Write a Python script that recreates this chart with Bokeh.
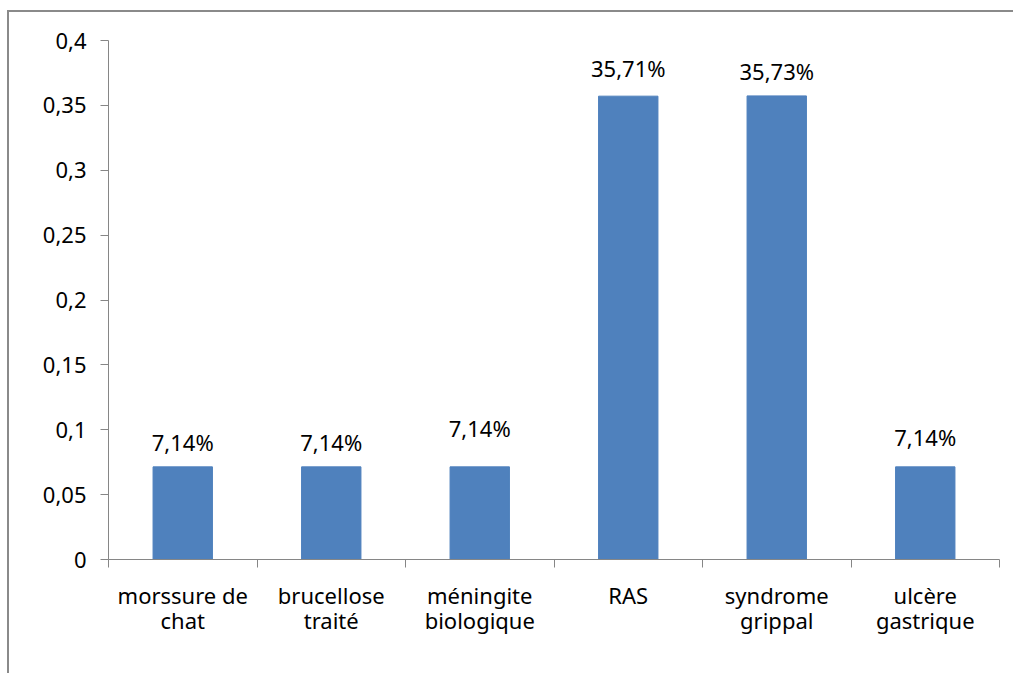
from bokeh.plotting import figure
from bokeh.models import ColumnDataSource, FixedTicker, Range1d, LabelSet
from bokeh.core.properties import value
from bokeh.embed import file_html
from bokeh.resources import INLINE

categories = ["morssure de\nchat", "brucellose\ntraité", "méningite\nbiologique",
              "RAS", "syndrome\ngrippal", "ulcère\ngastrique"]
values = [0.0714, 0.0714, 0.0714, 0.3571, 0.3573, 0.0714]
value_labels = ["7,14%", "7,14%", "7,14%", "35,71%", "35,73%", "7,14%"]
y_ticks = [0, 0.05, 0.1, 0.15, 0.2, 0.25, 0.3, 0.35, 0.4]
y_tick_labels = ["0", "0,05", "0,1", "0,15", "0,2", "0,25", "0,3", "0,35", "0,4"]

# pixel lift of each data label above its bar
label_lift = [25, 25, 39, 28, 25, 30]

FONT = "Noto Sans"
FS = "22px"
GREY = "#868686"

centers = [i + 0.5 for i in range(len(categories))]
src = ColumnDataSource(dict(x=centers, top=values, lab=value_labels, lift=label_lift))

p = figure(width=1006, height=663, output_backend="svg", toolbar_location=None,
           x_range=Range1d(0, len(categories)), y_range=Range1d(0, 0.4),
           min_border_left=99, min_border_right=16, min_border_top=28, min_border_bottom=116)
p.styles = {"border-left": "2px solid #8a8a8a", "border-top": "2px solid #8a8a8a",
            "margin-left": "7px", "margin-top": "10px"}
p.outline_line_color = None
p.grid.visible = False

p.vbar(x="x", top="top", width=0.4, bottom=0, source=src, color="#4F81BD")

labels = LabelSet(x="x", y="top", text="lab", y_offset="lift", source=src,
                  text_align="center", text_baseline="middle",
                  text_font=value(FONT), text_font_size=value(FS), text_color="#000000")
p.add_layout(labels)

# y axis
p.yaxis.ticker = FixedTicker(ticks=y_ticks)
p.yaxis.major_label_overrides = {t: s for t, s in zip(y_ticks, y_tick_labels)}
p.yaxis.axis_line_color = GREY
p.yaxis.major_tick_line_color = GREY
p.yaxis.major_tick_out = 8
p.yaxis.major_tick_in = 0
p.yaxis.minor_tick_line_color = None
p.yaxis.major_label_standoff = 14
p.yaxis.major_label_text_font = FONT
p.yaxis.major_label_text_font_size = FS
p.yaxis.major_label_text_color = "#000000"

# x axis: names centred under bars, tick marks at category boundaries
p.xaxis.ticker = FixedTicker(ticks=centers, minor_ticks=list(range(len(categories) + 1)))
p.xaxis.major_label_overrides = {c: n for c, n in zip(centers, categories)}
p.xaxis.axis_line_color = GREY
p.xaxis.major_tick_out = 0
p.xaxis.major_tick_in = 0
p.xaxis.minor_tick_line_color = GREY
p.xaxis.minor_tick_out = 8
p.xaxis.minor_tick_in = 0
p.xaxis.major_label_standoff = 12
p.xaxis.major_label_text_font = FONT
p.xaxis.major_label_text_font_size = FS
p.xaxis.major_label_text_color = "#000000"
p.xaxis.major_label_text_line_height = 0.85

open("out.html", "w").write(file_html(p, INLINE))
